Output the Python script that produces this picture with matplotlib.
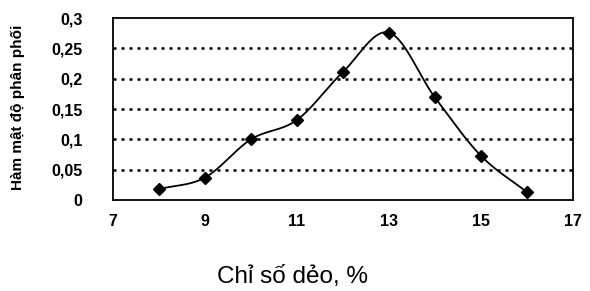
import numpy as np
import matplotlib
matplotlib.use("Agg")
import matplotlib.pyplot as plt
from matplotlib import font_manager

x_vals = [8, 9, 10, 11, 12, 13, 14, 15, 16]
density = [0.018, 0.037, 0.100, 0.132, 0.211, 0.276, 0.169, 0.073, 0.013]
y_ticks = [0, 0.05, 0.1, 0.15, 0.2, 0.25, 0.3]
y_labels = ["0", "0,05", "0,1", "0,15", "0,2", "0,25", "0,3"]
x_ticks = [7, 9, 11, 13, 15, 17]

names = {f.name for f in font_manager.fontManager.ttflist}
narrow = "Liberation Sans Narrow" if "Liberation Sans Narrow" in names else "Liberation Sans"


def smooth(xs, ys, n=30):
    # Catmull-Rom curve through the points, like a spreadsheet "smoothed line"
    xs = np.asarray(xs, float)
    ys = np.asarray(ys, float)
    px = np.concatenate([[2 * xs[0] - xs[1]], xs, [2 * xs[-1] - xs[-2]]])
    py = np.concatenate([[2 * ys[0] - ys[1]], ys, [2 * ys[-1] - ys[-2]]])
    ox, oy = [], []
    t = np.linspace(0, 1, n)
    for i in range(1, len(px) - 2):
        for arr, out in ((px, ox), (py, oy)):
            p0, p1, p2, p3 = arr[i - 1], arr[i], arr[i + 1], arr[i + 2]
            out.extend(0.5 * ((2 * p1) + (-p0 + p2) * t
                              + (2 * p0 - 5 * p1 + 4 * p2 - p3) * t ** 2
                              + (-p0 + 3 * p1 - 3 * p2 + p3) * t ** 3))
    return ox, oy


fig = plt.figure(figsize=(5.9, 2.91), dpi=100)
ax = fig.add_axes([0.1915, 0.3127, 0.7795, 0.6253])

sx, sy = smooth(x_vals, density)
ax.plot(sx, sy, color="black", lw=1.3)
ax.plot(x_vals, density, ls="none", marker="D", ms=6.5, color="black")

for v in y_ticks[1:-1]:
    ax.axhline(v, color="black", ls=(0, (1.2, 2.0)), lw=1.8, zorder=0)

ax.set_xlim(7, 17)
ax.set_ylim(0, 0.3)
ax.set_xticks(x_ticks)
ax.set_yticks(y_ticks)
ax.set_yticklabels(y_labels)
ax.tick_params(length=0, labelsize=11.5, pad=10)
ax.tick_params(axis="y", pad=22)
for lab in ax.get_xticklabels() + ax.get_yticklabels():
    lab.set_fontfamily("Liberation Sans")
    lab.set_fontweight("bold")
for s in ax.spines.values():
    s.set_linewidth(1.3)

fig.text(0.031, 0.632, "Hàm mật độ phân phối", rotation=90, ha="center", va="center",
         fontsize=11, family=narrow, fontweight="bold")
fig.text(0.495, 0.048, "Chỉ số dẻo, %", ha="center", va="center",
         fontsize=17.5, family="Liberation Sans")

fig.savefig("out.png", dpi=100)
